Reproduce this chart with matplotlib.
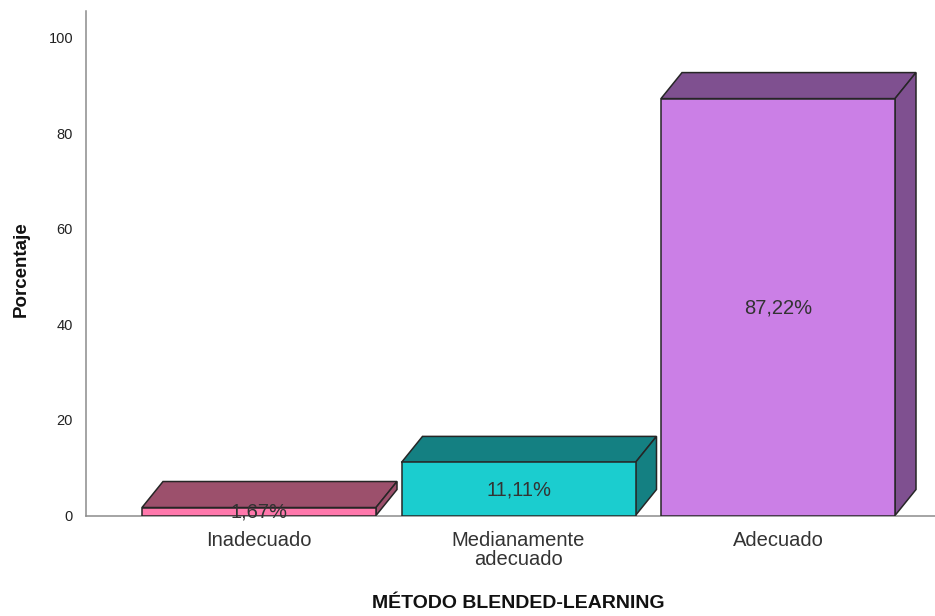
import matplotlib
matplotlib.use('Agg')
import matplotlib.pyplot as plt
from matplotlib.patches import Polygon

plt.rcParams['font.family'] = ['Liberation Sans', 'DejaVu Sans']

categorias = ['Inadecuado', 'Medianamente\nadecuado', 'Adecuado']
porcentajes = [1.67, 11.11, 87.22]
etiquetas = ['1,67%', '11,11%', '87,22%']
ticks_y = [0, 20, 40, 60, 80, 100]

frente = ['#FF78AC', '#1BCDCF', '#CB7FE6']
oscuro = ['#9C506C', '#148082', '#7F5090']
borde = '#262626'

W, H = 935, 616
x0_px, y0_px, top_px = 85.5, 515.5, 11
px_cat = 259.5
px_val = 4.78
ancho = 234 / px_cat
dx = 21 / px_cat
dy = 26 / px_val

fig = plt.figure(figsize=(W / 100, H / 100), dpi=100)
ax = fig.add_axes([x0_px / W, (H - y0_px) / H, (W - x0_px) / W, (y0_px - top_px) / H])

for i, v in enumerate(porcentajes):
    izq, der = i - ancho / 2, i + ancho / 2
    # cara de arriba y cara lateral
    ax.add_patch(Polygon([(izq, v), (izq + dx, v + dy), (der + dx, v + dy), (der, v)],
                         facecolor=oscuro[i], edgecolor=borde, lw=1.1, zorder=2))
    ax.add_patch(Polygon([(der, 0), (der + dx, dy), (der + dx, v + dy), (der, v)],
                         facecolor=oscuro[i], edgecolor=borde, lw=1.1, zorder=2))
    ax.bar(i, v, width=ancho, color=frente[i], edgecolor=borde, lw=1.1, zorder=3)
    ax.text(i, v / 2 - 0.2, etiquetas[i], ha='center', va='center', fontsize=14.5,
            color='#333333', zorder=5)

ax.set_xlim(-(259 - x0_px) / px_cat, (W - 259) / px_cat)
ax.set_ylim(0, (y0_px - top_px) / px_val)

ax.spines['top'].set_visible(False)
ax.spines['right'].set_visible(False)
ax.spines['left'].set_color('#8c8c8c')
ax.spines['bottom'].set_color('#8c8c8c')
ax.spines['left'].set_linewidth(1.1)
ax.spines['bottom'].set_linewidth(1.1)

ax.set_xticks(range(len(categorias)))
ax.set_xticklabels(categorias, fontsize=14.5, color='#333333', linespacing=1.0)
ax.set_yticks(ticks_y)
ax.set_yticklabels([str(t) for t in ticks_y], fontsize=10.5, color='#222222')
ax.tick_params(axis='both', length=0)
ax.tick_params(axis='x', pad=11)
ax.tick_params(axis='y', pad=9)

fig.text(518 / W, 1 - 604 / H, 'MÉTODO BLENDED-LEARNING', ha='center', va='center',
         fontsize=14, fontweight='bold', color='#111111')
fig.text(21 / W, 1 - 269 / H, 'Porcentaje', ha='center', va='center', rotation=90,
         fontsize=13.5, fontweight='bold', color='#111111')

fig.savefig('out.png', dpi=100)
